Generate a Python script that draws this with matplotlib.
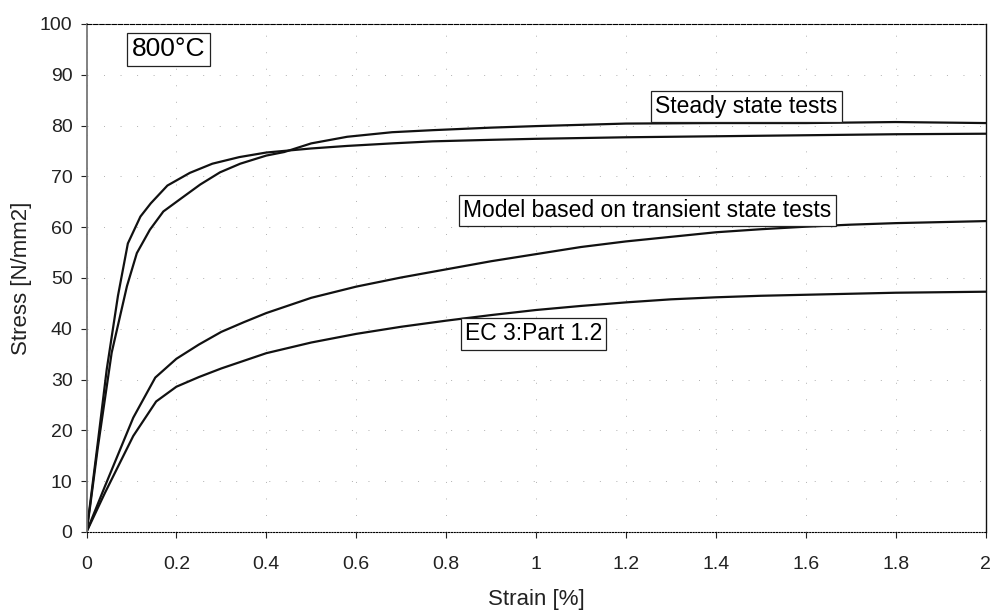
import matplotlib
matplotlib.use("Agg")
import matplotlib.pyplot as plt
from matplotlib import font_manager

# Steady state test no. 1 (stiffer start, lower plateau)
strain_s1 = [0, 0.008, 0.025, 0.045, 0.07, 0.092, 0.12, 0.143, 0.18, 0.23, 0.28, 0.34,
             0.40, 0.45, 0.5, 0.58, 0.68, 0.77, 0.9, 1.0, 1.2, 1.4, 1.6, 1.8, 2.0]
stress_s1 = [0, 5.5, 17.5, 32.0, 46.5, 56.8, 62.1, 64.7, 68.2, 70.7, 72.5, 73.8,
             74.7, 75.1, 75.5, 76.0, 76.5, 76.9, 77.2, 77.4, 77.7, 77.9, 78.1, 78.3, 78.4]

# Steady state test no. 2 (softer start, higher plateau)
strain_s2 = [0, 0.008, 0.025, 0.056, 0.09, 0.112, 0.141, 0.171, 0.208, 0.253, 0.297, 0.342,
             0.40, 0.44, 0.5, 0.58, 0.68, 0.77, 0.9, 1.0, 1.2, 1.4, 1.6, 1.8, 1.9, 2.0]
stress_s2 = [0, 5.0, 16.5, 35.3, 48.4, 54.9, 59.5, 63.1, 65.5, 68.4, 70.8, 72.5,
             74.1, 74.8, 76.5, 77.8, 78.7, 79.1, 79.6, 79.9, 80.4, 80.5, 80.5, 80.7, 80.6, 80.5]

# Model based on transient state tests
strain_model = [0, 0.041, 0.104, 0.153, 0.2, 0.25, 0.3, 0.35, 0.4, 0.5, 0.6, 0.7, 0.8,
                0.9, 1.0, 1.1, 1.2, 1.3, 1.4, 1.5, 1.6, 1.7, 1.8, 1.9, 2.0]
stress_model = [0, 9.0, 22.5, 30.4, 34.1, 36.9, 39.4, 41.3, 43.1, 46.1, 48.3, 50.1, 51.7,
                53.3, 54.7, 56.1, 57.2, 58.1, 59.0, 59.6, 60.1, 60.5, 60.8, 61.0, 61.2]

# EC 3: Part 1.2
strain_ec3 = [0, 0.041, 0.104, 0.155, 0.2, 0.25, 0.3, 0.35, 0.4, 0.5, 0.6, 0.7, 0.8,
              0.9, 1.0, 1.1, 1.2, 1.3, 1.4, 1.5, 1.6, 1.7, 1.8, 1.9, 2.0]
stress_ec3 = [0, 7.7, 18.9, 25.7, 28.6, 30.5, 32.2, 33.7, 35.2, 37.3, 39.0, 40.4, 41.6,
              42.7, 43.7, 44.5, 45.2, 45.8, 46.2, 46.5, 46.7, 46.9, 47.1, 47.2, 47.3]

x_ticks = [0, 0.2, 0.4, 0.6, 0.8, 1.0, 1.2, 1.4, 1.6, 1.8, 2.0]
x_tick_labels = ["0", "0.2", "0.4", "0.6", "0.8", "1", "1.2", "1.4", "1.6", "1.8", "2"]
y_ticks = [0, 10, 20, 30, 40, 50, 60, 70, 80, 90, 100]

installed = {f.name for f in font_manager.fontManager.ttflist}
regular = ["Liberation Sans", "DejaVu Sans"]
narrow = (["Liberation Sans Narrow"] if "Liberation Sans Narrow" in installed else []) + regular
plt.rcParams["font.family"] = regular

fig = plt.figure(figsize=(9.91, 6.15), dpi=100)
ax = fig.add_axes([86.5 / 991, 1 - 532 / 615, 899 / 991, 508 / 615])

line_kw = dict(color="#111111", lw=1.6, solid_joinstyle="round")
ax.plot(strain_s1, stress_s1, **line_kw)
ax.plot(strain_s2, stress_s2, **line_kw)
ax.plot(strain_model, stress_model, **line_kw)
ax.plot(strain_ec3, stress_ec3, **line_kw)

ax.set_xlim(0, 2)
ax.set_ylim(0, 100)
ax.set_xticks(x_ticks)
ax.set_xticklabels(x_tick_labels, family=narrow, fontsize=14, color="#222222")
ax.set_yticks(y_ticks)
ax.tick_params(axis="y", labelsize=14, direction="out", length=4, width=0.8,
               colors="#222222", pad=6)
ax.tick_params(axis="x", direction="out", length=4, width=0.8, colors="#222222", pad=13)

# sparse dotted grid
ax.grid(True, color="#b0b0b0", linestyle=(0, (1, 16)), lw=0.7)

ax.spines["left"].set_color("#777777")
ax.spines["left"].set_linewidth(1.3)
ax.spines["bottom"].set_linestyle((0, (1, 1.5)))
ax.spines["bottom"].set_linewidth(0.8)
ax.spines["top"].set_linestyle((0, (4, 1.5)))
ax.spines["top"].set_linewidth(0.8)
ax.spines["right"].set_color("#111111")
ax.spines["right"].set_linewidth(1.0)

ax.set_xlabel("Strain [%]", family=narrow, fontsize=16, labelpad=12, color="#222222")
ax.set_ylabel("Stress [N/mm2]", fontsize=16, labelpad=6, color="#222222")

box = dict(boxstyle="square,pad=0.18", fc="white", ec="#222222", lw=0.9)
ax.text(0.091, 0.95, "800°C", transform=ax.transAxes, fontsize=19,
        ha="center", va="center", bbox=box)
ax.text(0.734, 0.837, "Steady state tests", transform=ax.transAxes, fontsize=16.5,
        ha="center", va="center", bbox=box)
ax.text(0.624, 0.633, "Model based on transient state tests", transform=ax.transAxes,
        fontsize=16.5, ha="center", va="center", bbox=box)
ax.text(0.497, 0.39, "EC 3:Part 1.2", transform=ax.transAxes, fontsize=16.5,
        ha="center", va="center", bbox=box)

fig.savefig("out.png", dpi=100)
